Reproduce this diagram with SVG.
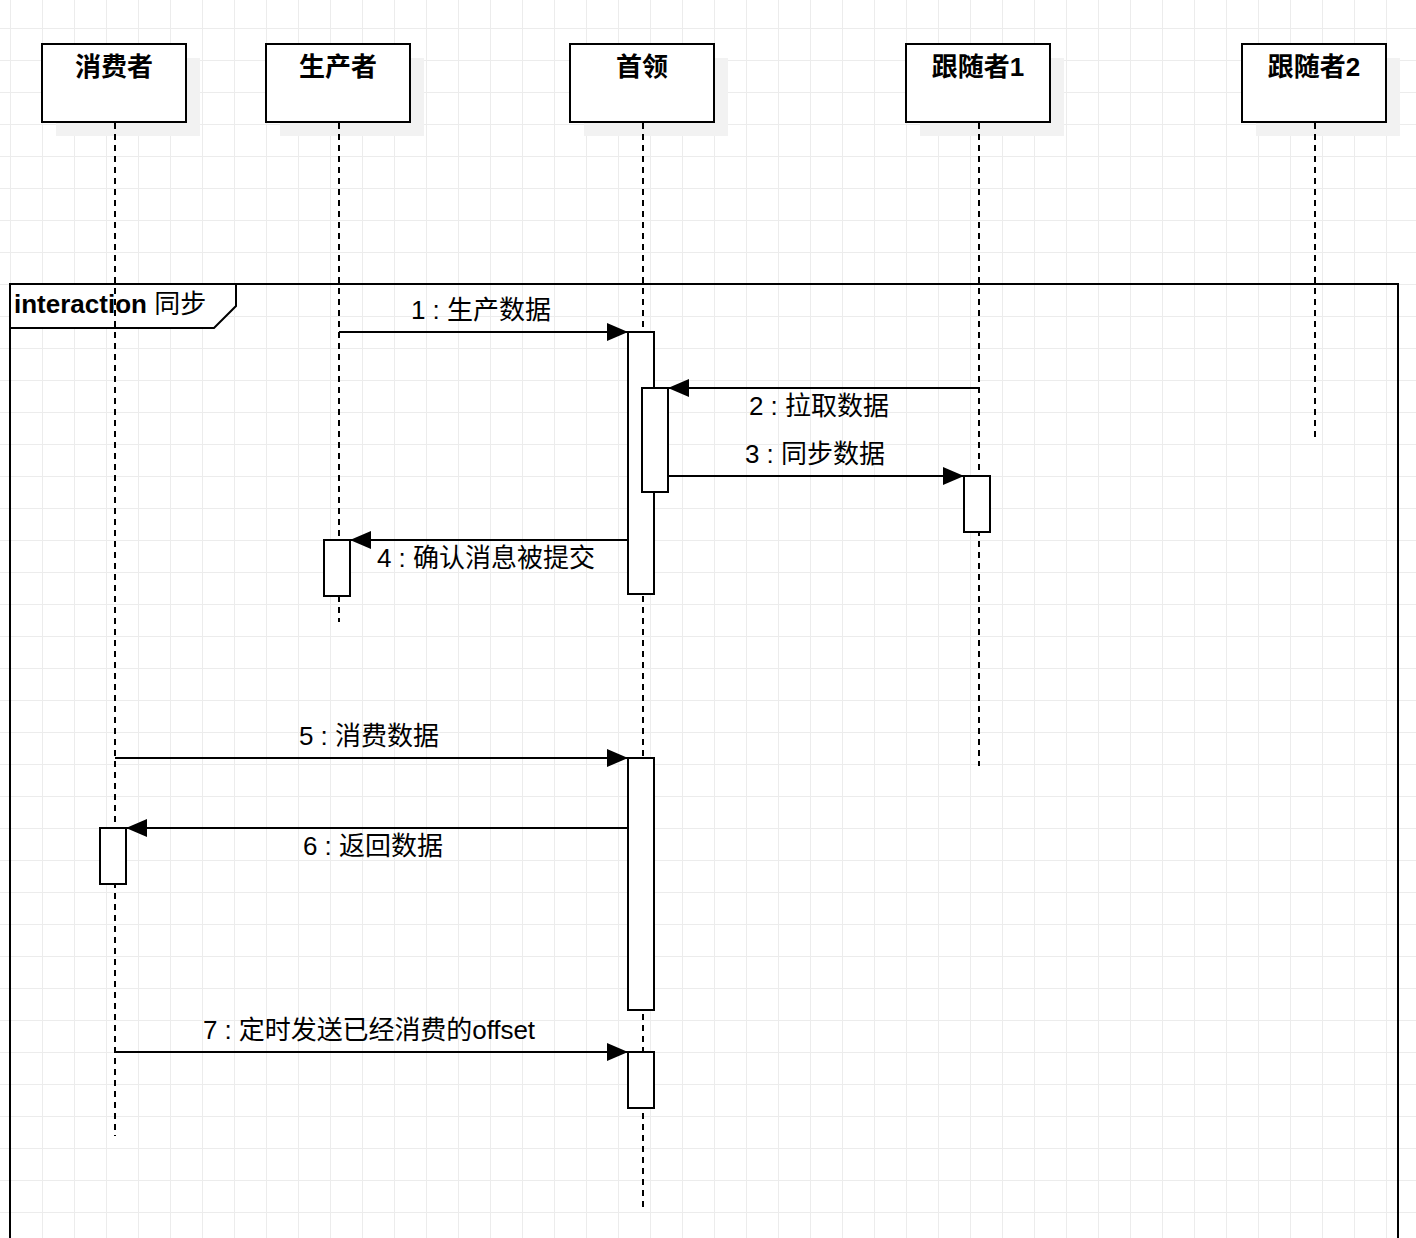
<svg xmlns="http://www.w3.org/2000/svg" width="1416" height="1238" viewBox="0 0 1416 1238">
<style>
text{font-family:"Liberation Sans","Noto Sans CJK SC",sans-serif;fill:#000}
.hd{font-size:26px;font-weight:bold;text-anchor:middle}
.lb{font-size:26px;text-anchor:middle}
.box{fill:#fff;stroke:#000;stroke-width:2}
.shadow{fill:#f2f2f2}
.life{fill:none;stroke:#000;stroke-width:2;stroke-dasharray:6 5}
.act{fill:#fff;stroke:#000;stroke-width:2}
.msg{fill:none;stroke:#000;stroke-width:2;marker-end:url(#arr)}
.frame{fill:none;stroke:#000;stroke-width:2}
</style>
<defs>
<pattern id="grid" patternUnits="userSpaceOnUse" x="10" y="28" width="32" height="32">
<rect x="0" y="0" width="1" height="32" fill="#ececec"/>
<rect x="0" y="0" width="32" height="1" fill="#ececec"/>
</pattern>
<marker id="arr" markerUnits="userSpaceOnUse" markerWidth="22" markerHeight="20" refX="21" refY="9" orient="auto">
<path d="M0,0 L21,9 L0,18 Z" fill="#000"/>
</marker>
</defs>
<rect width="1416" height="1238" fill="#fff"/>
<rect width="1416" height="1238" fill="url(#grid)"/>

<g id="frame">
<path class="frame" d="M10,1240 L10,284 L1398,284 L1398,1240"/>
<path d="M10,284 L236,284 L236,306 L214,328 L10,328 Z" fill="#fff" stroke="#000" stroke-width="2"/>
<text x="14" y="313" font-size="26px"><tspan font-weight="bold">interaction</tspan> 同步</text>
</g>

<g id="consumer">
<rect class="shadow" x="56" y="58" width="144" height="78"/>
<rect class="box" x="42" y="44" width="144" height="78"/>
<text class="hd" x="114" y="76">消费者</text>
</g>
<g id="producer">
<rect class="shadow" x="280" y="58" width="144" height="78"/>
<rect class="box" x="266" y="44" width="144" height="78"/>
<text class="hd" x="338" y="76">生产者</text>
</g>
<g id="leader">
<rect class="shadow" x="584" y="58" width="144" height="78"/>
<rect class="box" x="570" y="44" width="144" height="78"/>
<text class="hd" x="642" y="76">首领</text>
</g>
<g id="follower1">
<rect class="shadow" x="920" y="58" width="144" height="78"/>
<rect class="box" x="906" y="44" width="144" height="78"/>
<text class="hd" x="978" y="76">跟随者1</text>
</g>
<g id="follower2">
<rect class="shadow" x="1256" y="58" width="144" height="78"/>
<rect class="box" x="1242" y="44" width="144" height="78"/>
<text class="hd" x="1314" y="76">跟随者2</text>
</g>

<g id="lifelines">
<line class="life" x1="115" y1="123" x2="115" y2="1136"/>
<line class="life" x1="339" y1="123" x2="339" y2="622"/>
<line class="life" x1="643" y1="123" x2="643" y2="1210"/>
<line class="life" x1="979" y1="123" x2="979" y2="766"/>
<line class="life" x1="1315" y1="123" x2="1315" y2="442"/>
</g>

<g id="activations">
<rect id="act-leader-1" class="act" x="628" y="332" width="26" height="262"/>
<rect id="act-leader-2" class="act" x="642" y="388" width="26" height="104"/>
<rect id="act-follower1" class="act" x="964" y="476" width="26" height="56"/>
<rect id="act-producer" class="act" x="324" y="540" width="26" height="56"/>
<rect id="act-leader-3" class="act" x="628" y="758" width="26" height="252"/>
<rect id="act-consumer" class="act" x="100" y="828" width="26" height="56"/>
<rect id="act-leader-4" class="act" x="628" y="1052" width="26" height="56"/>
</g>

<g id="connectors">
<line class="msg" x1="339" y1="332" x2="628" y2="332"/>
<line class="msg" x1="978" y1="388" x2="668" y2="388"/>
<line class="msg" x1="668" y1="476" x2="964" y2="476"/>
<line class="msg" x1="628" y1="540" x2="350" y2="540"/>
<line class="msg" x1="115" y1="758" x2="628" y2="758"/>
<line class="msg" x1="628" y1="828" x2="126" y2="828"/>
<line class="msg" x1="115" y1="1052" x2="628" y2="1052"/>
</g>

<g id="labels">
<text class="lb" x="481" y="319">1 : 生产数据</text>
<text class="lb" x="819" y="415">2 : 拉取数据</text>
<text class="lb" x="815" y="463">3 : 同步数据</text>
<text class="lb" x="486" y="567">4 : 确认消息被提交</text>
<text class="lb" x="369" y="745">5 : 消费数据</text>
<text class="lb" x="373" y="855">6 : 返回数据</text>
<text class="lb" x="369" y="1039" textLength="332" lengthAdjust="spacing">7 : 定时发送已经消费的offset</text>
</g>
</svg>
